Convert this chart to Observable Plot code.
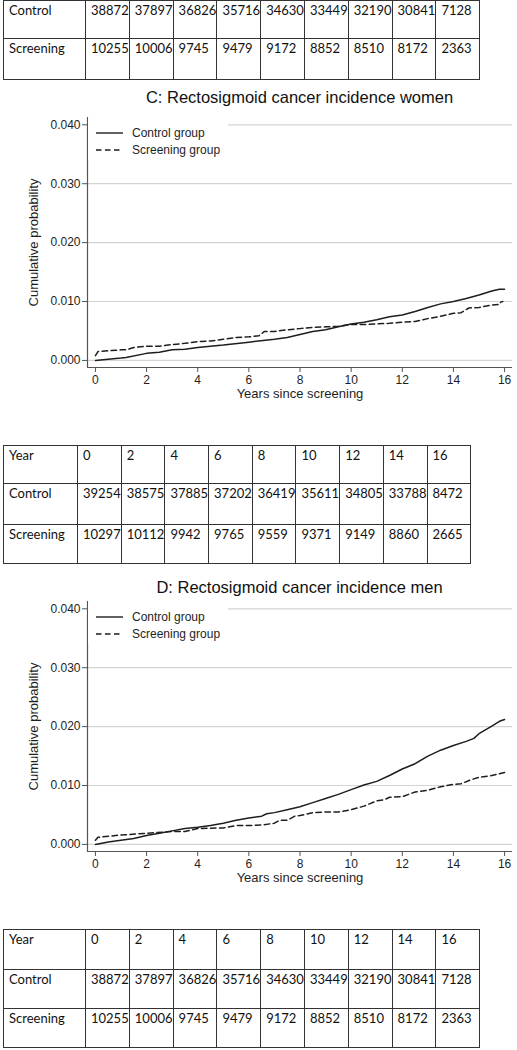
<!DOCTYPE html>
<html><head><meta charset="utf-8">
<script src="https://cdn.jsdelivr.net/npm/d3@7"></script>
<script src="https://cdn.jsdelivr.net/npm/@observablehq/plot@0.6"></script>
<style>
body{margin:0;background:#fff;}
#page{position:relative;width:517px;height:1050px;overflow:hidden;background:#fff;}
.tbl{position:absolute;border-collapse:collapse;table-layout:fixed;font-family:Lato,sans-serif;font-size:13px;color:#111;}
.tbl td{border:1px solid #333;padding:1px 0 0 5px;vertical-align:top;line-height:16px;white-space:nowrap;overflow:visible;}
.title{position:absolute;left:87px;width:425px;text-align:center;font-family:"Liberation Sans",Arial,sans-serif;font-size:16.5px;color:#111;line-height:20px;}
.chart{position:absolute;left:0;}
.legend{position:absolute;left:88px;width:140px;height:42px;background:#fff;}
</style>
</head><body>
<div id="page"></div>
<script>
// ---- data ----
const yearLabels = [0, 2, 4, 6, 8, 10, 12, 14, 16];
const menControlN = [38872, 37897, 36826, 35716, 34630, 33449, 32190, 30841, 7128];
const menScreenN = [10255, 10006, 9745, 9479, 9172, 8852, 8510, 8172, 2363];
const womenControlN = [39254, 38575, 37885, 37202, 36419, 35611, 34805, 33788, 8472];
const womenScreenN = [10297, 10112, 9942, 9765, 9559, 9371, 9149, 8860, 2665];

const womenControlX = [0,1,1.2,2,2.5,3,3.5,4,5,6,7,7.5,8,8.5,9,9.5,10,10.5,11,11.5,12,12.5,13,13.5,14,14.5,15,15.5,15.8,16];
const womenControlY = [0,0.0004,0.0005,0.0012,0.0014,0.0018,0.0019,0.0022,0.0026,0.0031,0.0036,0.0039,0.0044,0.0049,0.0052,0.0057,0.0062,0.0065,0.0069,0.0074,0.0077,0.0083,0.0090,0.0096,0.0100,0.0105,0.0111,0.0118,0.0121,0.0121];
const womenScreenX = [0,0.1,1,1.2,1.5,2,2.5,3,3.5,4,4.5,5,5.5,6,6.4,6.6,7,7.5,8,8.5,9,9.5,10,10.5,11,11.5,12,12.5,13,13.5,14,14.3,14.6,15,15.5,15.8,15.85,15.93];
const womenScreenY = [0.0008,0.0015,0.0018,0.0018,0.0022,0.0024,0.0024,0.0027,0.0029,0.0032,0.0033,0.0036,0.0039,0.0040,0.0042,0.0049,0.0049,0.0052,0.0054,0.0056,0.0057,0.0058,0.0061,0.0061,0.0062,0.0063,0.0065,0.0066,0.0071,0.0075,0.0080,0.0081,0.0089,0.0090,0.0094,0.0095,0.0099,0.0100];
const menControlX = [0,0.5,1,1.5,2,2.5,3,3.5,4,4.5,5,5.5,6,6.5,6.7,7,7.5,8,8.5,9,9.5,10,10.5,11,11.5,12,12.5,13,13.5,14,14.5,14.8,15,15.5,15.8,16];
const menControlY = [0,0.0004,0.0007,0.0010,0.0015,0.0019,0.0023,0.0027,0.0029,0.0032,0.0036,0.0041,0.0045,0.0048,0.0052,0.0054,0.0059,0.0064,0.0071,0.0078,0.0085,0.0093,0.0101,0.0107,0.0117,0.0128,0.0137,0.0150,0.0160,0.0168,0.0175,0.0180,0.0188,0.0201,0.0209,0.0212];
const menScreenX = [0,0.1,1,2,3,3.5,4,5,5.5,6,6.5,7,7.2,7.5,7.8,8,8.5,9,9.5,10,10.5,11,11.3,11.5,12,12.5,13,13.5,14,14.3,14.7,15,15.5,16];
const menScreenY = [0.0007,0.0012,0.0016,0.0019,0.0022,0.0022,0.0027,0.0028,0.0032,0.0032,0.0033,0.0036,0.0041,0.0041,0.0048,0.0049,0.0054,0.0055,0.0055,0.0059,0.0065,0.0074,0.0076,0.0080,0.0081,0.0089,0.0092,0.0098,0.0102,0.0103,0.0110,0.0114,0.0117,0.0122];

const xTicks = [0, 2, 4, 6, 8, 10, 12, 14, 16];
const yTicks = [0, 0.01, 0.02, 0.03, 0.04];
const seriesNames = ["Control group", "Screening group"];
const titles = ["C: Rectosigmoid cancer incidence women", "D: Rectosigmoid cancer incidence men"];
const xLabel = "Years since screening";
const yLabel = "Cumulative probability";
const rowNames = ["Year", "Control", "Screening"];

// ---- layout ----
const page = document.getElementById("page");
const xDomain = [-0.31, 16.31];
const yDomain = [-0.0012, 0.04124];
const dash = "5.5,3.5";
const ink = "#1e1e1e";
const font = "Liberation Sans, Arial, sans-serif";

function makeTable(rows, top, firstW, colW, heights) {
  const t = document.createElement("table");
  t.className = "tbl";
  t.style.top = top + "px";
  t.style.left = "3px";
  t.style.width = (firstW + colW * 9) + "px";
  const cg = document.createElement("colgroup");
  [firstW, ...Array(9).fill(colW)].forEach(w => {
    const c = document.createElement("col"); c.style.width = w + "px"; cg.appendChild(c);
  });
  t.appendChild(cg);
  rows.forEach((r, i) => {
    const tr = document.createElement("tr");
    tr.style.height = heights[i] + "px";
    r.forEach(v => { const td = document.createElement("td"); td.textContent = v; tr.appendChild(td); });
    t.appendChild(tr);
  });
  page.appendChild(t);
}

function drawChart(title, titleY, svgTop, cx, cy, sx, sy) {
  const tdiv = document.createElement("div");
  tdiv.className = "title";
  tdiv.style.top = (titleY - 10) + "px";
  tdiv.textContent = title;
  page.appendChild(tdiv);

  const ctrl = cx.map((x, i) => ({x, y: cy[i]}));
  const scr = sx.map((x, i) => ({x, y: sy[i]}));
  const chart = Plot.plot({
    width: 517, height: 300,
    marginLeft: 87, marginRight: 5, marginTop: 7, marginBottom: 43,
    style: {fontFamily: font, fontSize: "12px", color: ink, background: "transparent", overflow: "visible"},
    x: {domain: xDomain},
    y: {domain: yDomain},
    marks: [
      Plot.gridY(yTicks, {stroke: "#d4d4d4", strokeOpacity: 1, strokeWidth: 1.2}),
      Plot.ruleX([xDomain[0]], {stroke: "#555", strokeWidth: 1.2}),
      Plot.ruleY([yDomain[0]], {stroke: "#555", strokeWidth: 1.2}),
      Plot.axisY(yTicks, {tickFormat: d3.format(".3f"), tickSize: 5, tickPadding: 2, label: null, stroke: "#555", fontSize: 12, fontFamily: font, fill: ink}),
      Plot.axisX(xTicks, {tickSize: 5, tickPadding: 3, label: null, stroke: "#555", fontSize: 12, fontFamily: font, fill: ink}),
      Plot.text([yLabel], {frameAnchor: "left", textAnchor: "middle", rotate: -90, dx: -54, fontSize: 13, fontFamily: font, fill: ink}),
      Plot.text([xLabel], {frameAnchor: "bottom", textAnchor: "middle", dy: 30.5, fontSize: 13, fontFamily: font, fill: ink}),
      Plot.line(ctrl, {x: "x", y: "y", stroke: ink, strokeWidth: 1.5}),
      Plot.line(scr, {x: "x", y: "y", stroke: ink, strokeWidth: 1.5, strokeDasharray: dash})
    ]
  });
  chart.classList.add("chart");
  chart.style.position = "absolute";
  chart.style.top = svgTop + "px";
  chart.style.left = "0px";
  page.appendChild(chart);

  // legend (white box over the top-left of the plot region)
  const lg = document.createElement("div");
  lg.className = "legend";
  lg.style.top = (svgTop + 8) + "px";
  const ns = "http://www.w3.org/2000/svg";
  const s = document.createElementNS(ns, "svg");
  s.setAttribute("width", 140); s.setAttribute("height", 42);
  seriesNames.forEach((name, i) => {
    const yy = 15 + i * 17;
    const l = document.createElementNS(ns, "line");
    l.setAttribute("x1", 8); l.setAttribute("x2", 35);
    l.setAttribute("y1", yy); l.setAttribute("y2", yy);
    l.setAttribute("stroke", ink); l.setAttribute("stroke-width", 1.4);
    if (i === 1) l.setAttribute("stroke-dasharray", dash);
    s.appendChild(l);
    const t = document.createElementNS(ns, "text");
    t.setAttribute("x", 44); t.setAttribute("y", yy);
    t.setAttribute("dy", "0.35em");
    t.setAttribute("font-family", font);
    t.setAttribute("font-size", 12);
    t.setAttribute("fill", ink);
    t.textContent = name;
    s.appendChild(t);
  });
  lg.appendChild(s);
  page.appendChild(lg);
}

// top table (continuation, rows visible at top of page)
makeTable([[rowNames[1], ...menControlN], [rowNames[2], ...menScreenN]], 0, 82, 43.8, [38, 41]);

drawChart(titles[0], 97, 110, womenControlX, womenControlY, womenScreenX, womenScreenY);

makeTable([[rowNames[0], ...yearLabels], [rowNames[1], ...womenControlN], [rowNames[2], ...womenScreenN]], 445, 74, 43.7, [38, 41, 39]);

drawChart(titles[1], 587, 594, menControlX, menControlY, menScreenX, menScreenY);

makeTable([[rowNames[0], ...yearLabels], [rowNames[1], ...menControlN], [rowNames[2], ...menScreenN]], 929, 82, 43.8, [40, 39, 39]);
</script>
</body></html>
